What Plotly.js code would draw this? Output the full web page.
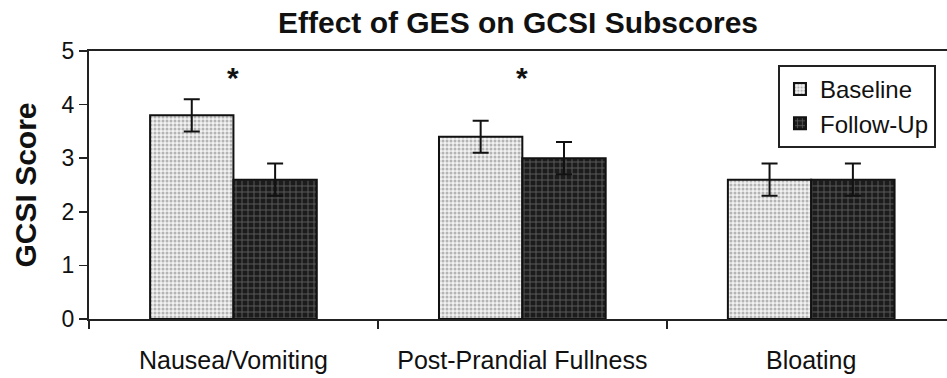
<!DOCTYPE html>
<html>
<head>
<meta charset="utf-8">
<script src="https://cdn.plot.ly/plotly-3.0.1.min.js"></script>
<style>html,body{margin:0;padding:0;background:#fff;}#chart{width:947px;height:378px;}</style>
</head>
<body>
<div id="chart"></div>
<script>
const categories = ["Nausea/Vomiting", "Post-Prandial Fullness", "Bloating"];
const baseline = [3.8, 3.4, 2.6];
const baselineErr = [0.3, 0.3, 0.3];
const followUp = [2.6, 3.0, 2.6];
const followUpErr = [0.3, 0.3, 0.3];
const significant = ["*", "*", ""];
const yTicks = [0, 1, 2, 3, 4, 5];

const FONT = '"Liberation Sans", Arial, sans-serif';

const traces = [
  {
    type: 'bar', name: 'Baseline', x: categories, y: baseline, legendgroup: 'a',
    marker: {
      color: '#e6e6e6',
      line: {color: '#111', width: 2},
      pattern: {shape: '.', bgcolor: '#f2f2f2', fgcolor: '#b4b4b4', size: 4, solidity: 0.45}
    },
    error_y: {type: 'data', array: baselineErr, visible: true, color: '#111', thickness: 2, width: 8}
  },
  {
    type: 'bar', name: 'Follow-Up', x: categories, y: followUp, legendgroup: 'b',
    marker: {
      color: '#222',
      line: {color: '#111', width: 2},
      pattern: {shape: '+', bgcolor: '#1c1c1c', fgcolor: '#5a5a5a', size: 6, solidity: 0.3}
    },
    error_y: {type: 'data', array: followUpErr, visible: true, color: '#111', thickness: 2, width: 8}
  }
];

const annotations = [];
categories.forEach((c, i) => {
  if (significant[i]) {
    annotations.push({
      x: c, y: 4.58, xref: 'x', yref: 'y', text: '<b>' + significant[i] + '</b>', showarrow: false,
      font: {family: FONT, size: 30, color: '#111'}, yshift: -4
    });
  }
});

const layout = {
  width: 947, height: 378,
  margin: {l: 89, r: 0, t: 51, b: 59},
  paper_bgcolor: '#fff', plot_bgcolor: '#fff',
  font: {family: FONT, color: '#111'},
  title: {
    text: '<b>Effect of GES on GCSI Subscores</b>',
    font: {family: FONT, size: 30, color: '#111'},
    x: 0.5, xref: 'paper', xanchor: 'center', y: 0.94, yref: 'container', yanchor: 'middle'
  },
  barmode: 'group', bargap: 0.423, bargroupgap: 0,
  xaxis: {
    type: 'category', range: [-0.5, 2.47],
    showline: true, linecolor: '#222', linewidth: 2, mirror: true,
    ticks: 'outside', tickson: 'boundaries', ticklen: 8, tickwidth: 1.5, tickcolor: '#222',
    tickfont: {family: FONT, size: 25, color: '#111'},
    ticklabelstandoff: 18,
    showgrid: false, zeroline: false, fixedrange: true
  },
  yaxis: {
    range: [0, 5], tickvals: yTicks, ticktext: yTicks.map(String),
    showline: true, linecolor: '#222', linewidth: 2,
    ticks: 'outside', ticklen: 8, tickwidth: 1.5, tickcolor: '#222',
    tickfont: {family: FONT, size: 23, color: '#111'},
    showgrid: false, zeroline: false, fixedrange: true,
    title: {text: '<b>GCSI Score</b>', font: {family: FONT, size: 30, color: '#111'}, standoff: 16}
  },
  legend: {
    x: 0.803, y: 0.948, xanchor: 'left', yanchor: 'top',
    bgcolor: '#fff', bordercolor: '#222', borderwidth: 2,
    font: {family: FONT, size: 24, color: '#111'},
    traceorder: 'normal', tracegroupgap: 16
  },
  annotations: annotations,
  showlegend: true
};

Plotly.newPlot('chart', traces, layout, {displayModeBar: false, staticPlot: true});
</script>
</body>
</html>
